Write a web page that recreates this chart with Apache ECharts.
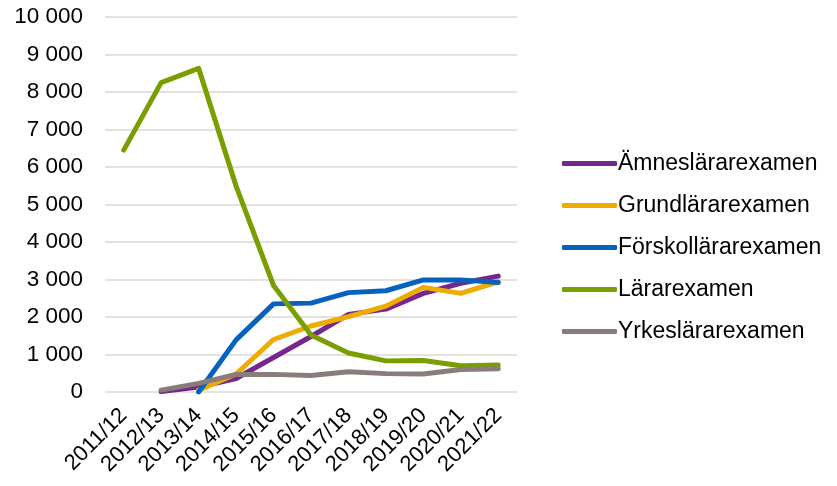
<!DOCTYPE html>
<html><head><meta charset="utf-8">
<script src="https://cdn.jsdelivr.net/npm/echarts@6/dist/echarts.min.js"></script>
<style>html,body{margin:0;padding:0;background:#fff}#c{width:837px;height:486px}</style>
</head><body><div id="c"></div>
<script>
const categories = ['2011/12','2012/13','2013/14','2014/15','2015/16','2016/17','2017/18','2018/19','2019/20','2020/21','2021/22'];
const amneslarar = [null, 10, 130, 360, 920, 1480, 2070, 2210, 2630, 2900, 3090];
const grundlarar = [null, null, 50, 480, 1400, 1760, 2010, 2290, 2790, 2630, 2940];
const forskollarar = [null, null, 0, 1390, 2350, 2370, 2650, 2700, 2990, 2990, 2920];
const lararexamen = [6450, 8250, 8630, 5490, 2840, 1520, 1040, 830, 840, 700, 720];
const yrkeslarar = [null, 50, 230, 470, 470, 440, 540, 490, 480, 600, 620];
const seriesNames = ['Ämneslärarexamen','Grundlärarexamen','Förskollärarexamen','Lärarexamen','Yrkeslärarexamen'];
const colors = ['#76278F','#EEAB00','#0563BF','#7A9E00','#8A7C7A'];
const data = [amneslarar, grundlarar, forskollarar, lararexamen, yrkeslarar];

const chart = echarts.init(document.getElementById('c'));
const font = 'Liberation Sans, Arial, sans-serif';
chart.setOption({
  animation: false,
  color: colors,
  grid: {left: 105, right: 320, top: 17, bottom: 94},
  legend: {
    orient: 'vertical', left: 557, top: 147, itemGap: 19,
    itemWidth: 55, itemHeight: 5, icon: 'roundRect',
    textStyle: {fontFamily: font, fontSize: 23, color: '#000', padding: [0, 0, 0, -4]},
    data: seriesNames
  },
  xAxis: {
    type: 'category', data: categories, boundaryGap: true,
    axisLine: {show: false}, axisTick: {show: false},
    axisLabel: {rotate: 45, fontFamily: font, fontSize: 22, color: '#000', margin: 20, interval: 0}
  },
  yAxis: {
    type: 'value', min: 0, max: 10000, interval: 1000,
    axisLine: {show: false}, axisTick: {show: false},
    splitLine: {lineStyle: {color: '#d9d9d9', width: 1.5}},
    axisLabel: {fontFamily: font, fontSize: 22.5, color: '#000', margin: 22,
      formatter: v => String(v).replace(/\B(?=(\d{3})+(?!\d))/g, ' ')}
  },
  series: data.map((d, i) => ({
    name: seriesNames[i], type: 'line', data: d, symbol: 'none',
    lineStyle: {width: 5, color: colors[i], cap: 'round', join: 'round'},
    itemStyle: {color: colors[i]}
  }))
});
</script></body></html>
